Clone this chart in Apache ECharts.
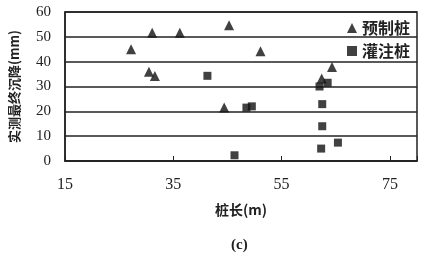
<!DOCTYPE html>
<html><head><meta charset="utf-8">
<script src="https://cdn.jsdelivr.net/npm/echarts@6/dist/echarts.min.js"></script>
<style>html,body{margin:0;padding:0;background:#fff}#c{width:433px;height:271px}</style>
</head><body><div id="c"></div>
<script>
const xTicks = [15, 35, 55, 75];
const yTicks = [0, 10, 20, 30, 40, 50, 60];
const precastLen = [27.2, 31.1, 36.2, 45.3, 51.1, 30.5, 31.6, 44.4, 64.3, 62.4];
const precastSettle = [45.0, 51.6, 51.6, 54.7, 44.2, 35.9, 34.2, 21.5, 37.9, 33.2];
const castLen = [41.3, 48.5, 49.5, 46.3, 62.0, 63.5, 62.5, 62.5, 65.4, 62.3];
const castSettle = [34.3, 21.5, 22.0, 2.3, 30.0, 31.5, 22.9, 14.0, 7.4, 5.0];
const seriesNames = ['预制桩', '灌注桩'];

const pts = (xs, ys) => xs.map((x, i) => [x, ys[i]]);
const serif = '"Liberation Serif","DejaVu Serif",serif';
const cjk = '"Noto Sans CJK SC",sans-serif';

const chart = echarts.init(document.getElementById('c'), null, {renderer: 'canvas'});
chart.setOption({
  animation: false,
  backgroundColor: '#fff',
  title: {text: '(c)', left: 226, top: 233, textStyle: {fontFamily: serif, fontSize: 15, fontWeight: 'bold', color: '#222'}},
  legend: {
    orient: 'vertical', right: 18, top: 15, itemGap: 7, itemWidth: 10, itemHeight: 10,
    textStyle: {fontFamily: cjk, fontSize: 16, fontWeight: 'bold', color: '#222'},
    data: [{name: seriesNames[0], icon: 'triangle'}, {name: seriesNames[1], icon: 'rect'}]
  },
  grid: {left: 65, right: 16, top: 12, bottom: 110, show: true, borderColor: '#222', borderWidth: 1.5},
  xAxis: {
    type: 'value', min: 15, max: 80, interval: 20,
    name: '桩长(m)', nameLocation: 'middle', nameGap: 42,
    nameTextStyle: {fontFamily: cjk, fontSize: 14, fontWeight: 'bold', color: '#222'},
    axisLine: {show: true, lineStyle: {color: '#222', width: 1.5}},
    axisTick: {show: true, inside: true, length: 5, lineStyle: {color: '#222'}},
    axisLabel: {margin: 16, fontFamily: serif, fontSize: 16, color: '#222',
      formatter: v => xTicks.includes(v) ? String(v) : ''},
    splitLine: {show: false}
  },
  yAxis: {
    type: 'value', min: 0, max: 60, interval: 10,
    name: '实测最终沉降(mm)', nameLocation: 'middle', nameGap: 44, nameRotate: 90,
    nameTextStyle: {fontFamily: cjk, fontSize: 13, fontWeight: 'bold', color: '#222'},
    axisLine: {show: true, lineStyle: {color: '#222', width: 1.5}},
    axisTick: {show: false},
    axisLabel: {margin: 14, fontFamily: serif, fontSize: 15, color: '#222',
      formatter: v => yTicks.includes(v) ? String(v) : ''},
    splitLine: {show: true, lineStyle: {color: '#222', width: 1.5}}
  },
  series: [
    {name: seriesNames[0], type: 'scatter', symbol: 'triangle', symbolSize: 10,
     itemStyle: {color: '#111'}, data: pts(precastLen, precastSettle)},
    {name: seriesNames[1], type: 'scatter', symbol: 'rect', symbolSize: 8,
     itemStyle: {color: '#111'}, data: pts(castLen, castSettle)}
  ]
});
</script></body></html>
